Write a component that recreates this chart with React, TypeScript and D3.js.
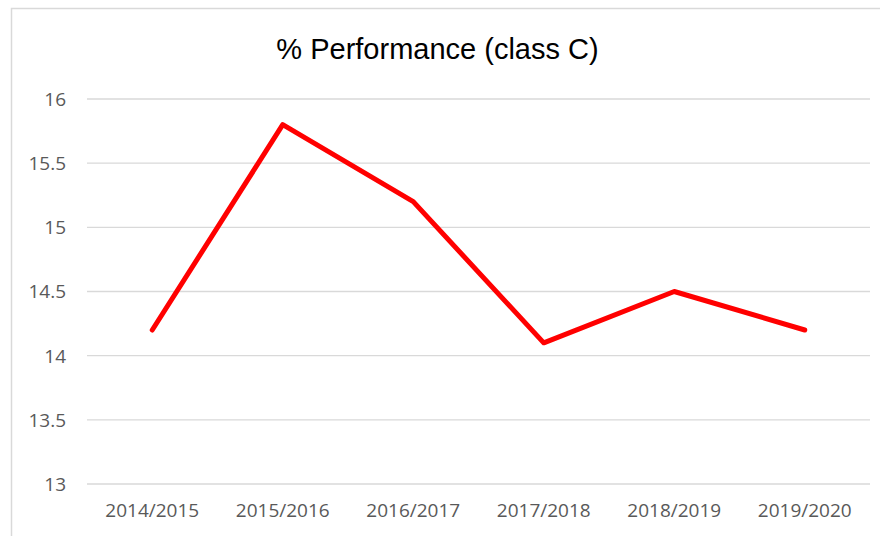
import React from "react";
import * as d3 from "d3";

const categories = ["2014/2015", "2015/2016", "2016/2017", "2017/2018", "2018/2019", "2019/2020"];
const values = [14.2, 15.8, 15.2, 14.1, 14.5, 14.2];
const yTicks = [13, 13.5, 14, 14.5, 15, 15.5, 16];
const title = "% Performance (class C)";

const W = 880;
const H = 536;
const plot = { left: 87, right: 870, top: 99, bottom: 484 };

export default function App() {
  const x = d3.scaleBand<string>().domain(categories).range([plot.left, plot.right]);
  const y = d3.scaleLinear().domain([13, 16]).range([plot.bottom, plot.top]);
  const line = d3
    .line<number>()
    .x((_, i) => (x(categories[i]) as number) + x.bandwidth() / 2)
    .y((d) => y(d));
  const font = "'Open Sans', 'Liberation Sans', sans-serif";
  return (
    <svg
      width={W}
      height={H}
      style={{ position: "absolute", left: 0, top: 0, background: "#fff" }}
    >
      <rect x={11.5} y={8.5} width={W} height={H} fill="#fff" stroke="#d9d9d9" strokeWidth={1.5} />
      <text
        x={437.5}
        y={59}
        textAnchor="middle"
        fontFamily="'Liberation Sans', Arial, sans-serif"
        fontSize={29}
        fill="#000"
      >
        {title}
      </text>
      {yTicks.map((t) => (
        <g key={t}>
          <line x1={plot.left} x2={plot.right} y1={y(t)} y2={y(t)} stroke="#d9d9d9" strokeWidth={1.3} />
          <text
            x={66}
            y={y(t)}
            dy="0.36em"
            textAnchor="end"
            fontFamily={font}
            fontSize={19}
            fill="#595959"
          >
            {t}
          </text>
        </g>
      ))}
      {categories.map((c) => (
        <text
          key={c}
          x={(x(c) as number) + x.bandwidth() / 2}
          y={517}
          textAnchor="middle"
          fontFamily={font}
          fontSize={19}
          fill="#595959"
        >
          {c}
        </text>
      ))}
      <path
        d={line(values) || ""}
        fill="none"
        stroke="#ff0000"
        strokeWidth={5}
        strokeLinejoin="round"
        strokeLinecap="round"
      />
    </svg>
  );
}
